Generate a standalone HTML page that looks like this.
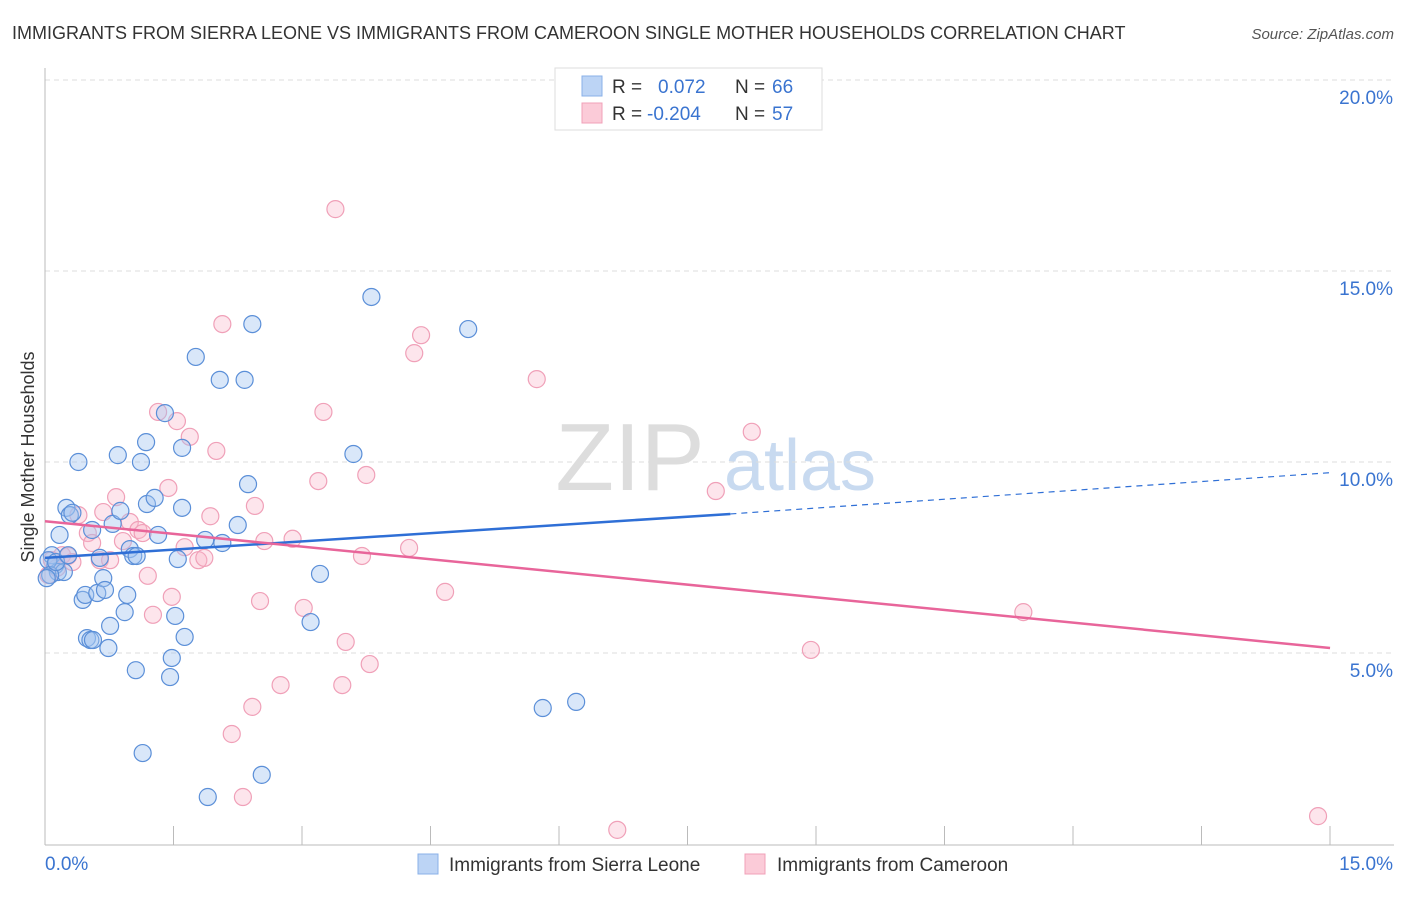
<!DOCTYPE html>
<html><head><meta charset="utf-8"><style>
body{margin:0;background:#fff;font-family:"Liberation Sans",sans-serif}
svg text{font-family:"Liberation Sans",sans-serif}
</style></head><body>
<svg id="c" width="1406" height="892">
<text x="12" y="39" font-size="18" fill="#333">IMMIGRANTS FROM SIERRA LEONE VS IMMIGRANTS FROM CAMEROON SINGLE MOTHER HOUSEHOLDS CORRELATION CHART</text>
<text x="1394" y="39" font-size="15" fill="#555" text-anchor="end" font-style="italic">Source: ZipAtlas.com</text>
<text x="630" y="490" font-size="96" fill="#ddd" font-family="Liberation Serif" text-anchor="middle">ZIP</text>
<text x="800" y="490" font-size="72" fill="#c8daf0" text-anchor="middle">atlas</text>
<text transform="translate(34,457) rotate(-90)" font-size="18" fill="#333" text-anchor="middle">Single Mother Households</text>
<g id="grid"></g><g id="pts"></g><g id="lines"></g>
<g>
<rect x="555" y="68" width="267" height="62" fill="#fff" stroke="#ddd"/>
<rect x="582" y="76" width="20" height="20" fill="#bcd4f5" stroke="#8ab0e8"/>
<rect x="582" y="103" width="20" height="20" fill="#fbcbd8" stroke="#f0a0b8"/>
<text x="612" y="93" font-size="19" fill="#333">R =</text><text x="658" y="93" font-size="19" fill="#3a74d0">0.072</text>
<text x="735" y="93" font-size="19" fill="#333">N =</text><text x="772" y="93" font-size="19" fill="#3a74d0">66</text>
<text x="612" y="120" font-size="19" fill="#333">R =</text><text x="647" y="120" font-size="19" fill="#3a74d0">-0.204</text>
<text x="735" y="120" font-size="19" fill="#333">N =</text><text x="772" y="120" font-size="19" fill="#3a74d0">57</text>
</g>
<g>
<rect x="418" y="854" width="20" height="20" fill="#bcd4f5" stroke="#8ab0e8"/>
<text x="449" y="871" font-size="19" fill="#333">Immigrants from Sierra Leone</text>
<rect x="745" y="854" width="20" height="20" fill="#fbcbd8" stroke="#f0a0b8"/>
<text x="777" y="871" font-size="19" fill="#333">Immigrants from Cameroon</text>
</g>
</svg>
<script>
const NS="http://www.w3.org/2000/svg";
const yTicks=[5,10,15,20];
const xTickLabels=["0.0%","15.0%"];
const blueX=[0.08,0.12,0.15,0.17,0.22,0.25,0.29,0.32,0.39,0.44,0.47,0.49,0.53,0.55,0.56,0.61,0.68,0.7,0.74,0.76,0.79,0.85,0.88,0.93,0.96,0.99,1.03,1.06,1.07,1.12,1.14,1.18,1.19,1.28,1.32,1.4,1.46,1.48,1.52,1.55,1.6,1.6,1.63,1.76,1.87,1.9,2.04,2.07,2.25,2.33,2.37,2.42,2.53,3.1,3.21,3.6,3.81,4.94,5.81,6.2,0.04,0.06,0.02,0.13,0.27,0.64];
const blueY=[7.56,7.3,7.12,8.09,7.12,8.8,8.61,8.67,10.0,6.39,6.52,5.39,5.34,8.22,5.34,6.57,6.96,6.65,5.13,5.71,8.38,10.18,8.72,6.07,6.52,7.72,7.54,4.55,7.54,10.0,2.38,10.52,8.9,9.06,8.09,11.28,4.37,4.87,5.97,7.46,10.37,8.8,5.42,12.75,7.96,1.23,12.15,7.88,8.35,12.15,9.42,13.61,1.81,5.81,7.07,10.21,14.32,13.48,3.56,3.72,7.43,7.04,6.96,7.38,7.56,7.49];
const pinkX=[0.04,0.08,0.14,0.2,0.27,0.32,0.39,0.5,0.55,0.64,0.68,0.76,0.83,0.91,0.99,1.09,1.14,1.2,1.26,1.32,1.44,1.48,1.54,1.63,1.69,1.79,1.86,1.93,2.0,2.07,2.18,2.31,2.42,2.45,2.51,2.56,2.75,2.89,3.02,3.19,3.25,3.39,3.47,3.51,3.7,3.75,3.79,4.25,4.31,4.39,4.67,5.74,6.68,7.83,8.25,8.94,11.42,14.86];
const pinkY=[7.04,7.43,7.23,7.56,7.54,7.38,8.61,8.14,7.88,7.43,8.69,7.43,9.08,7.93,8.43,8.22,8.14,7.02,6.0,11.31,9.32,6.47,11.07,7.77,10.66,7.43,7.49,8.58,10.29,13.61,2.88,1.23,3.59,8.85,6.36,7.93,4.16,7.99,6.18,9.5,11.31,16.62,4.16,5.29,7.54,9.66,4.71,7.75,12.85,13.32,6.6,12.17,0.37,9.24,10.79,5.08,6.07,0.73];
const sx=v=>45+v*85.67, sy=v=>844-v*38.2;
const grid=document.getElementById('grid');
function el(tag,attrs,parent){const e=document.createElementNS(NS,tag);for(const k in attrs)e.setAttribute(k,attrs[k]);parent.appendChild(e);return e;}
yTicks.forEach(t=>{
 const l=el('line',{x1:45,x2:1394,y1:sy(t),y2:sy(t),stroke:'#ddd','stroke-dasharray':'5,4'},grid);
 
 
 const tx=el('text',{x:1393,y:sy(t)+24,'font-size':19,fill:'#3a74d0','text-anchor':'end'},grid);
 tx.textContent=t.toFixed(1)+'%';
 
 
});
el('line',{x1:45,x2:45,y1:68,y2:845,stroke:'#bbb'},grid);
el('line',{x1:45,x2:1394,y1:845,y2:845,stroke:'#bbb'},grid);
for(let i=0;i<=10;i++){const x=45+i*128.5;el('line',{x1:x,x2:x,y1:826,y2:845,stroke:'#bbb'},grid);}
const xl=el('text',{x:45,y:870,'font-size':19,fill:'#3a74d0'},grid);xl.textContent=xTickLabels[0];


const xr=el('text',{x:1393,y:870,'font-size':19,fill:'#3a74d0','text-anchor':'end'},grid);xr.textContent=xTickLabels[1];


const pts=document.getElementById('pts');
pinkX.forEach((v,i)=>{const c=el('circle',{cx:sx(v),cy:sy(pinkY[i]),r:8.5,fill:'rgba(248,180,200,0.35)',stroke:'#f0a0b8','stroke-width':1.2},pts);
 
 });
blueX.forEach((v,i)=>{const c=el('circle',{cx:sx(v),cy:sy(blueY[i]),r:8.5,fill:'rgba(160,195,240,0.4)',stroke:'#5b8fd8','stroke-width':1.2},pts);
 
 });
const lines=document.getElementById('lines');
const bl=el('line',{x1:sx(0),y1:sy(7.49),x2:sx(8),y2:sy(8.64),stroke:'#2f6fd6','stroke-width':2.5},lines);


const bd=el('line',{x1:sx(8),y1:sy(8.64),x2:sx(15),y2:sy(9.72),stroke:'#2f6fd6','stroke-width':1.2,'stroke-dasharray':'6,5'},lines);


const pl=el('line',{x1:sx(0),y1:sy(8.45),x2:sx(15),y2:sy(5.13),stroke:'#e8659a','stroke-width':2.5},lines);


</script>
</body></html>
